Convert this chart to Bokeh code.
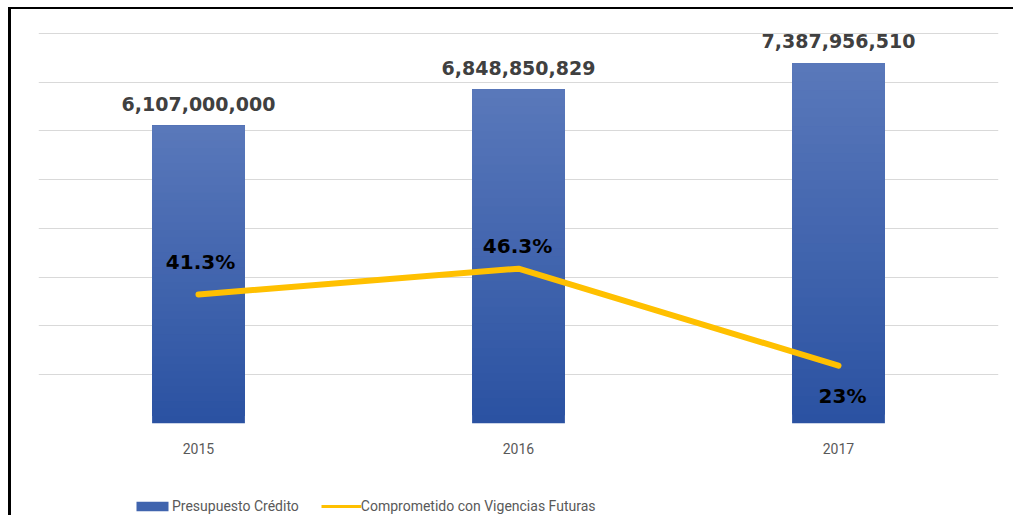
import numpy as np
from bokeh.plotting import figure
from bokeh.layouts import column
from bokeh.models import (Range1d, FactorRange, Legend, LegendItem, SingleIntervalTicker)
from bokeh.core.properties import value
from bokeh.embed import file_html
from bokeh.resources import INLINE

# ---- data ----
years = ["2015", "2016", "2017"]
presupuesto = [6107000000, 6848850829, 7387956510]
presupuesto_labels = ["6,107,000,000", "6,848,850,829", "7,387,956,510"]
comprometido = [0.330, 0.396, 0.148]
comprometido_labels = ["41.3%", "46.3%", "23%"]
series_names = ["Presupuesto Crédito", "Comprometido con Vigencias Futuras"]

# ---- style / layout ----
pct_dx = [2, -1, 4]
pct_dy = [-32, -23, 30]
BAR_W = 0.29
TOP_C = np.array([0x59, 0x78, 0xBA])
BOT_C = np.array([0x2B, 0x52, 0xA2])
MID_C = "#4064ae"
LINE_C = "#FFC000"
N_SLICES = 40
W = 1002

p = figure(x_range=FactorRange(*years, range_padding=0), y_range=Range1d(0, 8.02e9),
           width=W, height=460, output_backend="svg", toolbar_location=None,
           min_border_left=27, min_border_right=15, min_border_top=23,
           min_border_bottom=46)
p.outline_line_color = None
p.background_fill_color = "white"
p.border_fill_color = "white"
p.extra_y_ranges = {"pct": Range1d(0, 1)}

p.yaxis.visible = False
p.ygrid.ticker = SingleIntervalTicker(interval=1e9)
p.ygrid.grid_line_color = "#d9d9d9"
p.ygrid.grid_line_width = 1
p.xgrid.grid_line_color = None

p.xaxis.axis_line_color = None
p.xaxis.major_tick_line_color = None
p.xaxis.minor_tick_line_color = None
p.xaxis.major_label_standoff = 13
p.xaxis.major_label_text_font = "Roboto"
p.xaxis.major_label_text_font_size = "14px"
p.xaxis.major_label_text_color = "#595959"

# gradient bars built from the data values (layered slices)
xs, bottoms, tops, colors = [], [], [], []
for yr, v in zip(years, presupuesto):
    for k in range(N_SLICES):
        t = k / (N_SLICES - 1)
        c = BOT_C + (TOP_C - BOT_C) * t
        xs.append(yr)
        bottoms.append(v * k / N_SLICES)
        tops.append(v)
        colors.append("#%02x%02x%02x" % tuple(int(round(a)) for a in c))
p.vbar(x=xs, bottom=bottoms, top=tops, width=BAR_W, fill_color=colors, line_color=None)

p.line(x=years, y=comprometido, y_range_name="pct", line_color=LINE_C,
       line_width=6, line_cap="round", line_join="round")

# value labels on bars
p.text(x=years, y=presupuesto, text=presupuesto_labels, text_align="center",
       text_baseline="middle", y_offset=-22, text_font=value("DejaVu Sans"),
       text_font_style="bold", text_font_size="19px", text_color="#404040")

# percentage labels
p.text(x=years, y=comprometido, text=comprometido_labels, y_range_name="pct",
       x_offset=pct_dx, y_offset=pct_dy, text_align="center", text_baseline="middle",
       text_font=value("DejaVu Sans"), text_font_style="bold",
       text_font_size="20px", text_color="black")

# ---- legend strip ----
q = figure(x_range=Range1d(0, 1), y_range=Range1d(0, 1), width=W, height=46,
           output_backend="svg", toolbar_location=None,
           x_axis_location=None, y_axis_location=None,
           min_border_left=27, min_border_right=15, min_border_top=0, min_border_bottom=0)
q.outline_line_color = None
q.background_fill_color = "white"
q.border_fill_color = "white"
q.grid.visible = False
nan = float("nan")
proxy_bar = q.vbar(x=[nan], top=[nan], width=0.1, fill_color=MID_C, line_color=None)
proxy_line = q.line(x=[nan], y=[nan], line_color=LINE_C, line_width=3)
legend = Legend(items=[
    LegendItem(label=series_names[0], renderers=[proxy_bar]),
    LegendItem(label=series_names[1], renderers=[proxy_line]),
], orientation="horizontal", location=(94, 1), glyph_width=40, glyph_height=12,
    label_standoff=0, spacing=22, padding=0, margin=0,
    border_line_color=None, background_fill_alpha=0,
    label_text_font="Roboto", label_text_font_size="14px",
    label_text_color="#595959")
q.add_layout(legend, "center")

layout = column(p, q, spacing=0,
                styles={"border-top": "2px solid black", "border-left": "3px solid black",
                        "margin-top": "7px", "margin-left": "8px"})

open("out.html", "w").write(file_html(layout, INLINE))
